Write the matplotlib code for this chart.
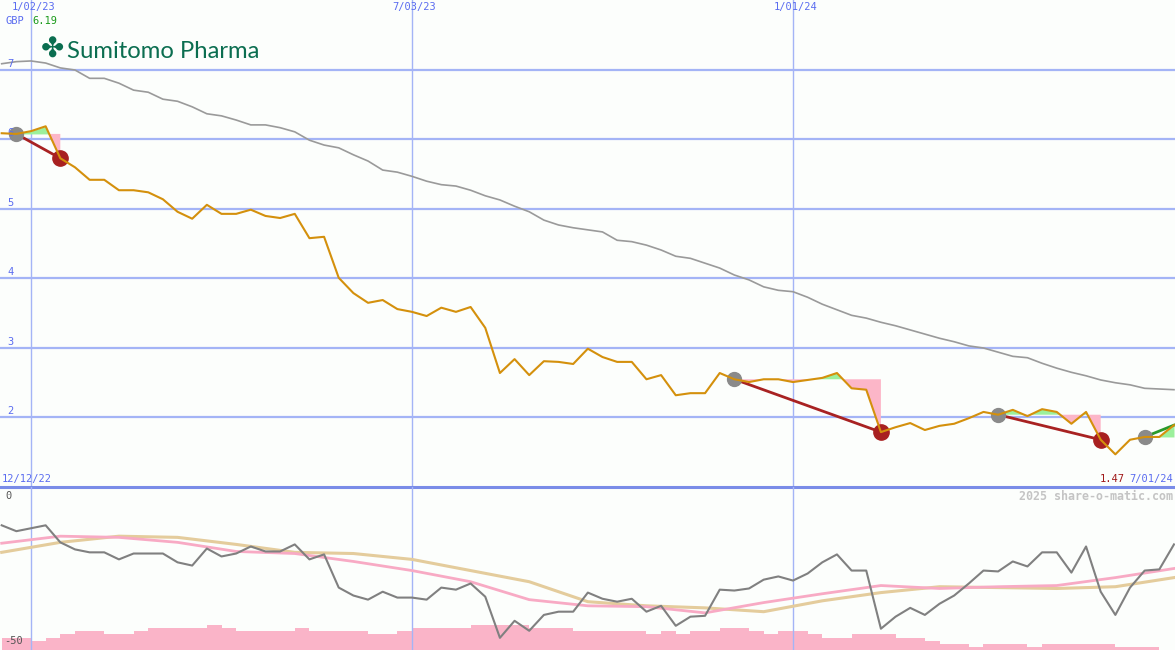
import numpy as np
import matplotlib.pyplot as plt
from matplotlib.transforms import blended_transform_factory

# weekly index, week 0 = 1/02/23
weeks = np.arange(-2, 79)

price = [6.09, 6.08, 6.12, 6.19, 5.73, 5.60, 5.42, 5.42, 5.27, 5.27,
         5.24, 5.14, 4.96, 4.86, 5.06, 4.93, 4.93, 4.99, 4.90, 4.87,
         4.93, 4.58, 4.60, 4.01, 3.79, 3.65, 3.69, 3.56, 3.52, 3.46,
         3.58, 3.52, 3.59, 3.29, 2.64, 2.84, 2.61, 2.81, 2.80, 2.77,
         2.99, 2.87, 2.80, 2.80, 2.55, 2.61, 2.32, 2.35, 2.35, 2.64,
         2.55, 2.51, 2.55, 2.55, 2.51, 2.54, 2.57, 2.64, 2.42, 2.40,
         1.79, 1.86, 1.92, 1.82, 1.88, 1.91, 1.99, 2.08, 2.04, 2.11,
         2.02, 2.12, 2.08, 1.91, 2.08, 1.68, 1.47, 1.68, 1.72, 1.72,
         1.89]

avg = [7.09, 7.12, 7.13, 7.10, 7.03, 7.00, 6.88, 6.88, 6.81, 6.71,
       6.68, 6.58, 6.55, 6.47, 6.37, 6.34, 6.28, 6.21, 6.21, 6.17,
       6.11, 5.99, 5.92, 5.88, 5.78, 5.69, 5.56, 5.53, 5.47, 5.40,
       5.35, 5.33, 5.27, 5.19, 5.13, 5.04, 4.96, 4.84, 4.77, 4.73,
       4.70, 4.67, 4.55, 4.53, 4.48, 4.41, 4.32, 4.29, 4.22, 4.15,
       4.05, 3.98, 3.88, 3.83, 3.81, 3.73, 3.63, 3.55, 3.47, 3.43,
       3.37, 3.32, 3.26, 3.20, 3.14, 3.09, 3.03, 3.00, 2.94, 2.88,
       2.86, 2.78, 2.71, 2.65, 2.60, 2.54, 2.50, 2.47, 2.42, 2.41,
       2.40]

osc = [-10.3, -12.3, -11.3, -10.3, -16.1, -18.5, -19.5, -19.5, -21.9, -19.9,
       -19.9, -19.9, -22.9, -24.0, -18.2, -20.9, -19.9, -17.5, -19.2, -19.2,
       -16.8, -21.9, -20.2, -31.5, -34.2, -35.6, -32.9, -34.9, -34.9, -35.6,
       -31.5, -32.2, -30.1, -34.6, -48.6, -42.8, -46.2, -40.8, -39.7, -39.7,
       -33.2, -35.3, -36.3, -35.3, -39.7, -37.7, -44.5, -41.4, -41.1, -32.2,
       -32.5, -31.8, -28.8, -27.7, -29.1, -26.7, -22.9, -20.2, -25.7, -25.7,
       -45.5, -41.4, -38.4, -40.8, -37.0, -34.2, -30.1, -25.7, -26.0, -22.6,
       -24.3, -19.5, -19.5, -26.4, -17.5, -32.9, -40.8, -31.5, -25.7, -25.3,
       -16.8]

# smoothed oscillator lines, read every 4 weeks
knot_weeks = np.arange(-2, 79, 4)
osc_fast = [-16.4, -14.0, -14.4, -16.1, -19.2, -19.9, -22.6, -25.7, -29.5, -35.6,
            -37.7, -38.0, -40.1, -36.6, -33.6, -30.8, -31.8, -31.2, -30.8, -28.1,
            -25.0]
osc_slow = [-19.5, -16.1, -14.0, -14.4, -16.8, -19.5, -19.9, -21.9, -25.7, -29.5,
            -36.3, -37.7, -38.4, -39.7, -36.0, -33.2, -31.2, -31.5, -31.8, -31.2,
            -28.1]

# weekly volume level (bars start at each week)
volume = [4, 4, 3, 4, 5, 6, 6, 5, 5, 6,
          7, 7, 7, 7, 8, 7, 6, 6, 6, 6,
          7, 6, 6, 6, 6, 5, 5, 6, 7, 7,
          7, 7, 8, 8, 8, 8, 7, 7, 7, 6,
          6, 6, 6, 6, 5, 6, 5, 6, 6, 7,
          7, 6, 5, 6, 6, 5, 4, 4, 5, 5,
          5, 4, 4, 3, 2, 2, 1, 2, 2, 2,
          1, 2, 2, 2, 2, 2, 1, 1, 1, 0]

grid_weeks = [0, 26, 52]
grid_labels = ['1/02/23', '7/03/23', '1/01/24']
price_ticks = [2, 3, 4, 5, 6, 7]
trades = [(-1, 2), (48, 58), (66, 73)]
open_trade = 76

bg = '#fcfefc'
grid_c = '#a4b4f6'
blue_txt = '#5a6cf0'
mono = 'DejaVu Sans Mono'

fig = plt.figure(figsize=(11.75, 6.5), dpi=100)
fig.patch.set_facecolor(bg)
ax = fig.add_axes([0, 163 / 650, 1, 487 / 650])
ax2 = fig.add_axes([0, 0, 1, 163 / 650])
ax3 = ax2.twinx()
for a in (ax, ax2, ax3):
    a.set_axis_off()

xlim = (-2.116, 78.07)
ax.set_xlim(xlim)
ax.set_ylim(1, 8.007)
ax2.set_xlim(xlim)
ax2.set_ylim(-52.74, 2.74)
ax3.set_ylim(0, 52.3)

price_a = np.array(price)

# grid
for p in price_ticks:
    ax.axhline(p, color=grid_c, lw=1.6, zorder=0)
for w in grid_weeks:
    ax.axvline(w, color=grid_c, lw=1.0, zorder=0)
    ax2.axvline(w, color=grid_c, lw=1.0, zorder=0)
ax.axhline(1, color='#7a8ce8', lw=2.2, clip_on=False, zorder=5)

# trades
def shade(s, e):
    i0, i1 = s + 2, e + 2
    xs = weeks[i0:i1 + 1]
    ys = price_a[i0:i1 + 1]
    ref = price_a[i0]
    ax.fill_between(xs, ys, ref, where=ys >= ref, interpolate=True,
                    color='#9cf09c', lw=0, zorder=1)
    ax.fill_between(xs, ys, ref, where=ys <= ref, interpolate=True,
                    color='#fcb6c8', lw=0, zorder=1)

for s, e in trades:
    shade(s, e)
    ax.plot([s, e], [price[s + 2], price[e + 2]], color='#a82222', lw=2.0, zorder=2)
    ax.plot(s, price[s + 2], 'o', color='#8a8a8a', ms=10, zorder=3)
    ax.plot(e, price[e + 2], 'o', color='#a82020', ms=11, zorder=3)
shade(open_trade, weeks[-1])
ax.plot([open_trade, weeks[-1]], [price[open_trade + 2], price[-1]],
        color='#2a9a2a', lw=2.0, zorder=2)
ax.plot(open_trade, price[open_trade + 2], 'o', color='#8a8a8a', ms=10, zorder=3)

# lines
ax.plot(weeks, avg, color='#9a9a9a', lw=1.2, zorder=2)
ax.plot(weeks, price, color='#d4900c', lw=1.5, zorder=4)

# lower panel
ax3.bar(weeks[:-1], volume, width=1, align='edge', color='#fab4c8', lw=0, zorder=1)
ax2.set_zorder(ax3.get_zorder() + 1)
ax2.patch.set_visible(False)
ax2.plot(knot_weeks, osc_slow, color='#e4cc9c', lw=2.2, zorder=2)
ax2.plot(knot_weeks, osc_fast, color='#f8aac4', lw=2.0, zorder=2)
ax2.plot(weeks, osc, color='#808080', lw=1.5, zorder=3)

# text
tx = blended_transform_factory(ax.transData, ax.transAxes)
for w, lab in zip(grid_weeks, grid_labels):
    ax.text(w + 0.15, 0.995, lab, transform=tx, ha='center', va='top',
            fontsize=7.5, family=mono, color=blue_txt)
ty = blended_transform_factory(ax.transAxes, ax.transData)
for p in price_ticks:
    ax.text(0.006, p + 0.02, str(p), transform=ty, ha='left', va='bottom',
            fontsize=7.5, family=mono, color=blue_txt)

fig.text(5 / 1175, 1 - 21 / 650, 'GBP', ha='left', va='center',
         fontsize=7.5, family=mono, color=blue_txt)
fig.text(32 / 1175, 1 - 21 / 650, f'{max(price):.2f}', ha='left', va='center',
         fontsize=7.5, family=mono, color='#1a9a1a')
fig.text(2 / 1175, 1 - 479 / 650, '12/12/22', ha='left', va='center',
         fontsize=7.5, family=mono, color=blue_txt)
fig.text(1125 / 1175, 1 - 479 / 650, f'{min(price):.2f}', ha='right', va='center',
         fontsize=7.5, family=mono, color='#a01818')
fig.text(1173 / 1175, 1 - 479 / 650, '7/01/24', ha='right', va='center',
         fontsize=7.5, family=mono, color=blue_txt)
fig.text(5 / 1175, 1 - 496 / 650, '0', ha='left', va='center',
         fontsize=7.5, family=mono, color='#555555')
fig.text(4 / 1175, 1 - 641 / 650, '-50', ha='left', va='center',
         fontsize=7.5, family=mono, color='#555555')
fig.text(1173 / 1175, 1 - 496 / 650, '2025 share-o-matic.com', ha='right',
         va='center', fontsize=8.4, family=mono, weight='bold', color='#c4c4c4')

# logo
fig.text(52 / 1175, 1 - 50 / 650, '\u2724', ha='center', va='center',
         fontsize=20, family='DejaVu Sans', color='#0b6e50')
fig.text(67 / 1175, 1 - 51 / 650, 'Sumitomo Pharma', ha='left', va='center',
         fontsize=17.2, family='Lato', color='#0b6e50')

fig.savefig('out.png', dpi=100, facecolor=bg)
